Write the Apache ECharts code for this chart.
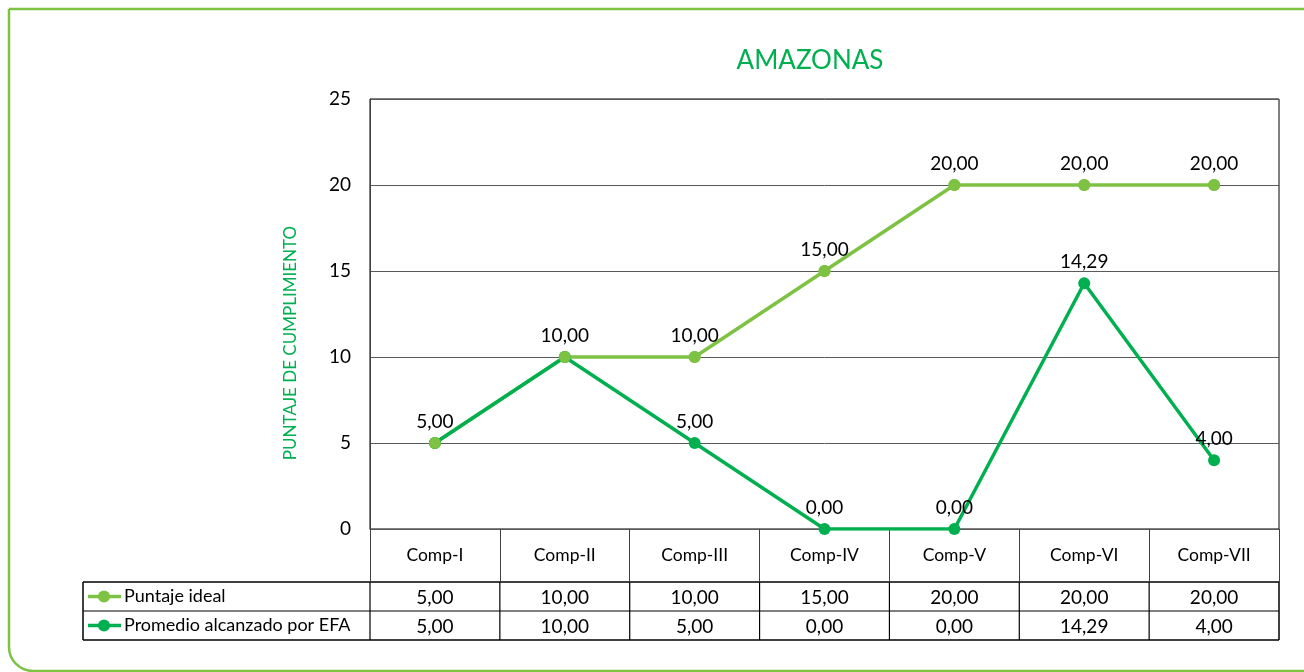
<!DOCTYPE html>
<html>
<head>
<meta charset="utf-8">
<title>AMAZONAS</title>
<script src="https://cdn.jsdelivr.net/npm/echarts@6/dist/echarts.min.js"></script>
<style>
  html, body { margin: 0; padding: 0; background: #fff; }
  #chart { width: 1304px; height: 672px; }
</style>
</head>
<body>
<div id="chart"></div>
<script>
// data
const categories = ['Comp-I', 'Comp-II', 'Comp-III', 'Comp-IV', 'Comp-V', 'Comp-VI', 'Comp-VII'];
const puntajeIdeal = [5, 10, 10, 15, 20, 20, 20];
const promedioEfa = [5, 10, 5, 0, 0, 14.29, 4];
const seriesNames = ['Puntaje ideal', 'Promedio alcanzado por EFA'];
const yMin = 0, yMax = 25, yStep = 5;

const LIGHT = '#7dc242';
const DARK = '#00b050';
const FONT = 'Lato, "Open Sans", sans-serif';

const fmt = (v) => v.toFixed(2).replace('.', ',');

const chart = echarts.init(document.getElementById('chart'), null, { renderer: 'canvas' });

function lineSeries(name, data, color, z, labelFormatter) {
  return {
    name: name,
    type: 'line',
    data: data,
    z: z,
    symbol: 'circle',
    symbolSize: 12,
    lineStyle: { width: 3.5, color: color },
    itemStyle: { color: color },
    label: {
      show: true,
      position: 'top',
      distance: 6,
      fontFamily: FONT,
      fontSize: 19,
      color: '#000',
      formatter: labelFormatter,
    },
  };
}

chart.setOption({
  animation: false,
  textStyle: { fontFamily: FONT },
  title: {
    text: 'AMAZONAS',
    left: 805,
    top: 43,
    textAlign: 'center',
    textStyle: { color: DARK, fontSize: 26, fontWeight: 'normal', fontFamily: FONT },
  },
  grid: {
    left: 370,
    right: 25,
    top: 99,
    bottom: 143,
    show: true,
    borderColor: '#000',
    borderWidth: 1,
    backgroundColor: 'transparent',
  },
  xAxis: {
    type: 'category',
    data: categories,
    boundaryGap: true,
    axisLine: { show: true, lineStyle: { color: '#595959', width: 1 } },
    axisTick: { show: true, interval: 0, length: 53, lineStyle: { color: '#404040', width: 1 } },
    axisLabel: { interval: 0, margin: 17, color: '#000', fontSize: 17.5, fontFamily: FONT },
  },
  yAxis: {
    type: 'value',
    min: yMin,
    max: yMax,
    interval: yStep,
    axisLine: { show: true, lineStyle: { color: '#404040' } },
    axisTick: { show: false },
    axisLabel: { margin: 19, color: '#000', fontSize: 19, fontFamily: FONT },
    splitLine: { lineStyle: { color: '#595959', width: 1 } },
  },
  series: [
    lineSeries(seriesNames[0], puntajeIdeal, LIGHT, 2, (p) => fmt(p.value)),
    // where both series meet only one label is visible
    lineSeries(seriesNames[1], promedioEfa, DARK, 3,
      (p) => (p.value === puntajeIdeal[p.dataIndex] ? '' : fmt(p.value))),
    // ideal markers again on top, as in the source chart
    {
      type: 'line',
      data: puntajeIdeal,
      z: 4,
      symbol: 'circle',
      symbolSize: 12,
      lineStyle: { opacity: 0 },
      itemStyle: { color: LIGHT },
      label: { show: false },
      silent: true,
    },
  ],
});

// data table under the plot, placed from the axes
function buildTable() {
  const band = chart.convertToPixel({ xAxisIndex: 0 }, 1) - chart.convertToPixel({ xAxisIndex: 0 }, 0);
  const centers = categories.map((c, i) => chart.convertToPixel({ xAxisIndex: 0 }, i));
  const left = centers[0] - band / 2;
  const right = centers[centers.length - 1] + band / 2;
  const y0 = chart.convertToPixel({ yAxisIndex: 0 }, yMin);
  const tableLeft = 83;
  const rowTops = [y0 + 53, y0 + 82];
  const rowH = 29;
  const bottom = rowTops[1] + rowH;

  const els = [];
  const line = (x1, y1, x2, y2, w) => els.push({
    type: 'line',
    shape: { x1: x1, y1: y1, x2: x2, y2: y2 },
    style: { stroke: '#000', lineWidth: w || 1.2 },
  });

  // horizontal rules
  line(tableLeft, rowTops[0], right, rowTops[0], 1.5);
  line(tableLeft, rowTops[1], right, rowTops[1], 1.2);
  line(tableLeft, bottom, right, bottom, 1.5);
  // vertical rules
  line(tableLeft, rowTops[0], tableLeft, bottom, 1.5);
  for (let k = 0; k <= categories.length; k++) {
    const x = left + k * band;
    line(x, rowTops[0], x, bottom, k === categories.length ? 1.5 : 1.2);
  }

  const rows = [
    { name: seriesNames[0], values: puntajeIdeal, color: LIGHT },
    { name: seriesNames[1], values: promedioEfa, color: DARK },
  ];
  rows.forEach((row, r) => {
    const cy = rowTops[r] + rowH / 2;
    // legend key
    els.push({
      type: 'line',
      shape: { x1: 88, y1: cy, x2: 121, y2: cy },
      style: { stroke: row.color, lineWidth: 3.5 },
    });
    els.push({
      type: 'circle',
      shape: { cx: 104, cy: cy, r: 6 },
      style: { fill: row.color },
    });
    els.push({
      type: 'text',
      x: 124,
      y: cy,
      style: { text: row.name, fill: '#000', font: '18px ' + FONT, textVerticalAlign: 'middle' },
    });
    row.values.forEach((v, i) => {
      els.push({
        type: 'text',
        x: centers[i],
        y: cy + 1,
        style: { text: fmt(v), fill: '#000', font: '19px ' + FONT, textAlign: 'center', textVerticalAlign: 'middle' },
      });
    });
  });

  // y axis title
  els.push({
    type: 'text',
    x: 291,
    y: 343,
    rotation: Math.PI / 2,
    style: {
      text: 'PUNTAJE DE CUMPLIMIENTO',
      fill: DARK,
      font: '17px ' + FONT,
      textAlign: 'center',
      textVerticalAlign: 'middle',
    },
  });

  // frame of the figure
  els.push({
    type: 'rect',
    shape: { x: 9, y: 9, width: 1320, height: 662, r: [0, 0, 0, 24] },
    style: { fill: null, stroke: LIGHT, lineWidth: 2.5 },
    z: -1,
  });

  chart.setOption({ graphic: { elements: els } });
}

buildTable();
</script>
</body>
</html>
